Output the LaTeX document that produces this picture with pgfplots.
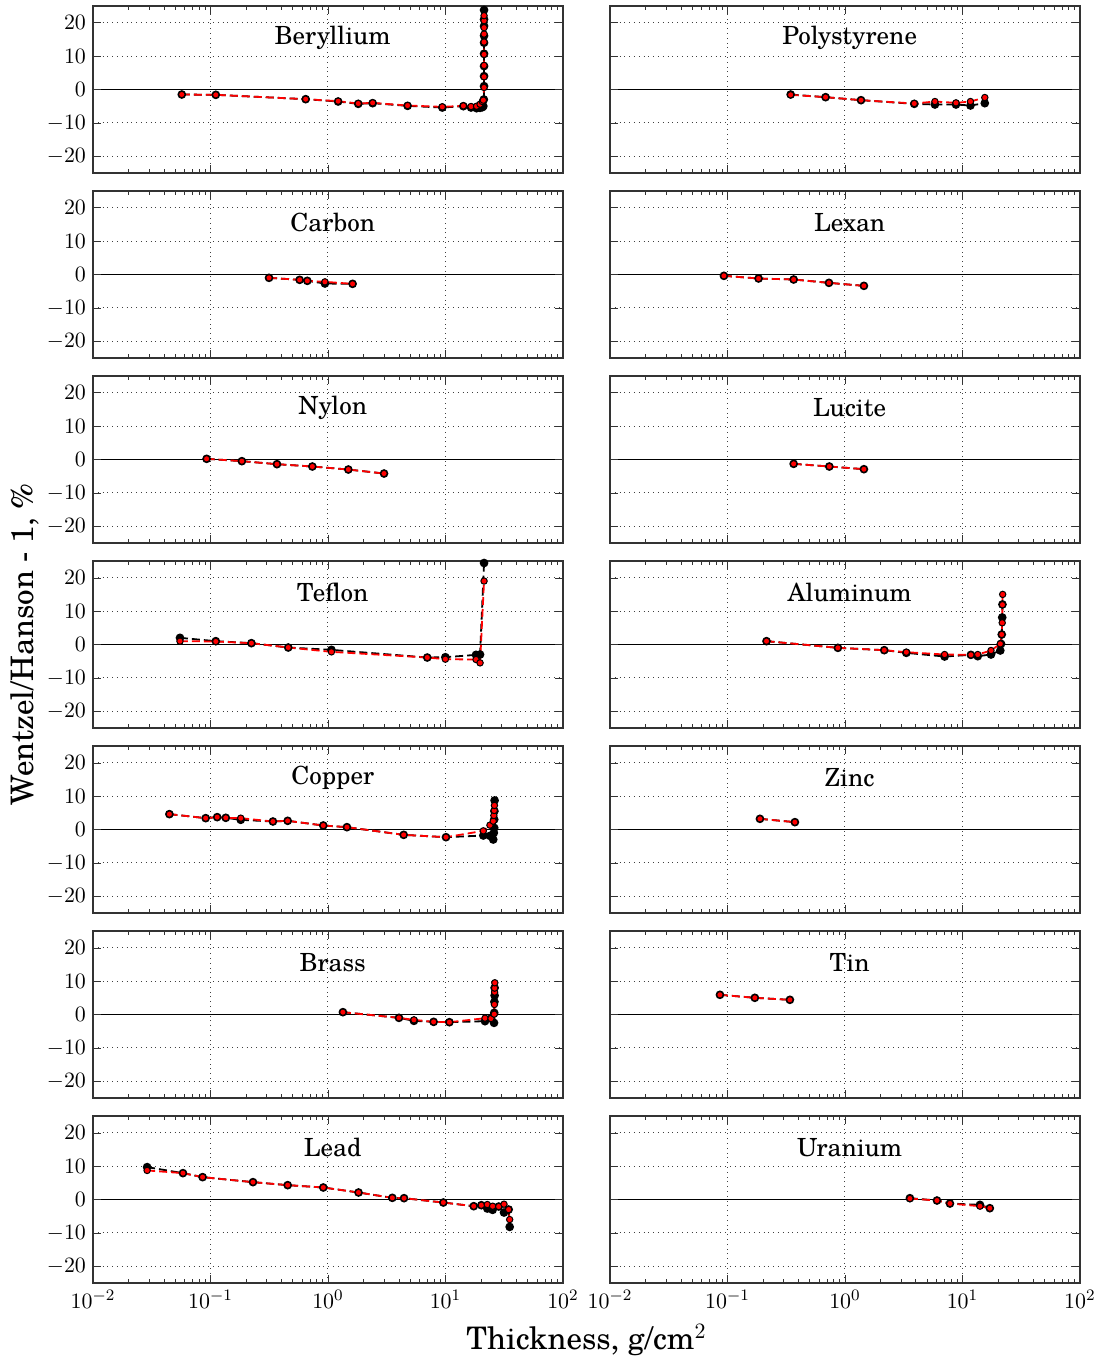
\documentclass[border=0pt]{standalone}
\usepackage{fontspec}
\setmainfont{TeX Gyre Schola}
\usepackage{pgfplots}
\pgfplotsset{compat=1.18}
\usepgfplotslibrary{groupplots}
\usetikzlibrary{calc}

\pgfplotsset{
  blk/.style={black, line width=0.9pt, dash pattern=on 4pt off 2pt,
    mark=*, mark size=1.7pt, mark options={solid, fill=black}},
  rd/.style={red, line width=0.9pt, dash pattern=on 4pt off 2pt,
    mark=*, mark size=1.6pt, mark options={solid, fill=red, draw=black, line width=0.5pt}},
}
\newcommand{\lab}[1]{\node[font=\fontsize{12.5}{14}\selectfont] at (axis description cs:0.51,0.81) {#1};}

\begin{document}
\begin{tikzpicture}
\begin{groupplot}[
  group style={group name=G, group size=2 by 7, horizontal sep=23.5pt, vertical sep=9pt,
    xticklabels at=edge bottom, yticklabels at=edge left},
  scale only axis, width=235pt, height=83.5pt,
  xmode=log, xmin=0.01, xmax=100, xtick={0.01,0.1,1,10,100},
  ymin=-25, ymax=25, ytick={-20,-10,0,10,20},
  tick label style={font=\fontsize{11}{13}\selectfont},
  grid=major, major grid style={dotted, black!75, line width=0.5pt},
  major tick length=4pt, minor tick length=2pt, tick style={black!80},
  axis line style={black!80, line width=0.8pt},
  extra y ticks={0}, extra y tick labels={},
  extra y tick style={grid=major, major grid style={solid, black, line width=0.6pt}},
]
% Beryllium
\nextgroupplot
\addplot[blk] coordinates {(0.057,-1.5) (0.111,-1.6) (0.646,-2.9) (1.22,-3.6) (1.81,-4.3) (2.40,-4.1) (4.76,-4.9) (9.40,-5.4) (14.2,-5.0) (16.5,-5.4) (18.4,-5.6) (19.7,-5.5) (20.6,-5.3) (21.0,-5.0) (21.2,-3.0) (21.3,1.0) (21.3,4.0) (21.3,7.0) (21.3,10.7) (21.3,14.0) (21.3,16.1) (21.3,19.0) (21.3,21.0) (21.3,23.8)};
\addplot[rd] coordinates {(0.057,-1.5) (0.111,-1.6) (0.646,-2.9) (1.22,-3.5) (1.81,-4.2) (2.40,-4.0) (4.76,-4.8) (9.40,-5.2) (14.2,-4.9) (16.5,-5.1) (18.4,-5.0) (19.7,-4.4) (20.6,-3.6) (21.0,-3.2) (21.3,0.6) (21.3,3.8) (21.3,7.2) (21.3,10.5) (21.3,14.2) (21.3,16.6) (21.3,18.5) (21.3,20.6) (21.3,22.1)};
\lab{Beryllium}
% Polystyrene
\nextgroupplot
\addplot[blk] coordinates {(0.345,-1.5) (0.684,-2.3) (1.37,-3.2) (3.89,-4.3) (5.83,-4.5) (8.81,-4.5) (11.7,-4.8) (15.5,-4.1)};
\addplot[rd] coordinates {(0.345,-1.6) (0.684,-2.3) (1.37,-3.2) (3.89,-4.2) (5.83,-3.6) (8.81,-4.0) (11.7,-3.6) (15.5,-2.4)};
\lab{Polystyrene}
% Carbon
\nextgroupplot
\addplot[blk] coordinates {(0.315,-1.0) (0.574,-1.6) (0.667,-1.9) (0.942,-2.7) (1.62,-2.8)};
\addplot[rd] coordinates {(0.315,-1.0) (0.574,-1.6) (0.667,-1.9) (0.942,-2.2) (1.62,-2.8)};
\lab{Carbon}
% Lexan
\nextgroupplot
\addplot[blk] coordinates {(0.0933,-0.4) (0.184,-1.2) (0.366,-1.5) (0.731,-2.5) (1.45,-3.4)};
\addplot[rd] coordinates {(0.0933,-0.4) (0.184,-1.2) (0.366,-1.5) (0.731,-2.5) (1.45,-3.4)};
\lab{Lexan}
% Nylon
\nextgroupplot
\addplot[blk] coordinates {(0.0927,0.2) (0.185,-0.5) (0.368,-1.4) (0.736,-2.1) (1.49,-3.0) (3.0,-4.2)};
\addplot[rd] coordinates {(0.0927,0.2) (0.185,-0.5) (0.368,-1.4) (0.736,-2.1) (1.49,-3.0) (3.0,-4.2)};
\lab{Nylon}
% Lucite
\nextgroupplot
\addplot[blk] coordinates {(0.366,-1.3) (0.736,-2.1) (1.45,-2.9)};
\addplot[rd] coordinates {(0.366,-1.3) (0.736,-2.1) (1.45,-2.9)};
\lab{Lucite}
% Teflon
\nextgroupplot
\addplot[blk] coordinates {(0.0550,2.0) (0.111,1.0) (0.223,0.4) (0.459,-0.9) (1.07,-1.6) (7.0,-3.9) (9.98,-3.8) (18.2,-3.1) (19.7,-3.0) (21.3,24.4)};
\addplot[rd] coordinates {(0.0550,1.0) (0.111,0.9) (0.223,0.4) (0.459,-0.9) (1.07,-2.2) (7.0,-3.9) (9.98,-4.4) (18.2,-4.5) (19.7,-5.5) (21.3,19.0)};
\lab{Teflon}
% Aluminum
\nextgroupplot
\addplot[blk] coordinates {(0.215,1.0) (0.871,-1.0) (2.16,-1.7) (3.33,-2.5) (7.05,-3.6) (11.8,-3.1) (13.5,-3.5) (17.5,-3.0) (21.0,-1.8) (21.3,0.2) (21.6,3.0) (21.8,8.1) (21.9,12.0)};
\addplot[rd] coordinates {(0.215,1.0) (0.871,-1.0) (2.16,-1.7) (3.33,-2.3) (7.05,-3.0) (11.8,-3.1) (13.5,-3.0) (17.5,-1.8) (21.0,0.2) (21.6,3.0) (21.8,6.5) (21.9,11.9) (22.0,15.0)};
\lab{Aluminum}
% Copper
\nextgroupplot
\addplot[blk] coordinates {(0.0447,4.6) (0.0910,3.4) (0.114,3.7) (0.135,3.5) (0.181,2.9) (0.340,2.4) (0.454,2.6) (0.912,1.2) (1.45,0.7) (4.41,-1.6) (10.1,-2.3) (21.0,-1.8) (23.9,-1.9) (25.5,-3.0) (25.8,-1.0) (26.0,0.5) (26.0,3.0) (26.1,5.5) (26.2,8.7)};
\addplot[rd] coordinates {(0.0447,4.6) (0.0910,3.4) (0.114,3.7) (0.135,3.5) (0.181,3.4) (0.340,2.4) (0.454,2.6) (0.912,1.2) (1.45,0.7) (4.41,-1.6) (10.1,-2.3) (21.0,-0.4) (23.9,1.3) (25.5,2.5) (25.8,4.2) (26.0,5.7) (26.1,7.2)};
\lab{Copper}
% Zinc
\nextgroupplot
\addplot[blk] coordinates {(0.189,3.2) (0.375,2.2)};
\addplot[rd] coordinates {(0.189,3.2) (0.375,2.2)};
\lab{Zinc}
% Brass
\nextgroupplot
\addplot[blk] coordinates {(1.34,0.7) (4.02,-1.0) (5.39,-1.9) (7.93,-2.2) (10.8,-2.3) (21.7,-2.0) (24.4,-1.2) (25.9,-2.5) (26.0,0.5) (26.1,3.8) (26.2,5.7) (26.2,8.0)};
\addplot[rd] coordinates {(1.34,0.7) (4.02,-1.0) (5.39,-1.6) (7.93,-2.2) (10.8,-2.3) (21.7,-1.1) (24.4,-1.2) (26.0,0.1) (26.1,3.0) (26.2,6.7) (26.2,7.9) (26.3,9.5)};
\lab{Brass}
% Tin
\nextgroupplot
\addplot[blk] coordinates {(0.0863,5.9) (0.171,5.0) (0.340,4.4)};
\addplot[rd] coordinates {(0.0863,5.9) (0.171,5.0) (0.340,4.4)};
\lab{Tin}
% Lead
\nextgroupplot
\addplot[blk] coordinates {(0.0289,9.7) (0.0583,7.9) (0.0857,6.7) (0.230,5.2) (0.454,4.3) (0.912,3.6) (1.82,2.1) (3.53,0.5) (4.44,0.4) (9.59,-0.9) (17.4,-2.0) (20.2,-1.7) (22.7,-2.7) (25.2,-3.1) (28.4,-2.1) (31.5,-3.9) (34.5,-3.0) (35.2,-8.2)};
\addplot[rd] coordinates {(0.0289,8.7) (0.0583,7.9) (0.0857,6.7) (0.230,5.2) (0.454,4.3) (0.912,3.6) (1.82,2.1) (3.53,0.5) (4.44,0.4) (9.59,-0.9) (17.4,-2.0) (20.2,-1.7) (22.7,-1.5) (25.2,-2.0) (28.4,-2.1) (31.5,-1.4) (34.5,-3.0) (35.2,-6.0)};
\lab{Lead}
% Uranium
\nextgroupplot
\addplot[blk] coordinates {(3.57,0.4) (6.07,-0.3) (7.83,-1.2) (14.1,-1.6) (17.1,-2.6)};
\addplot[rd] coordinates {(3.57,0.3) (6.07,-0.3) (7.83,-1.2) (14.1,-2.0) (17.1,-2.6)};
\lab{Uranium}
\end{groupplot}
\node[font=\fontsize{15.5}{18}\selectfont] at ($($(G c1r7.south west)!0.5!(G c2r7.south east)$)+(0,-28.5pt)$) {Thickness, g/cm$^2$};
\node[font=\fontsize{15.5}{18}\selectfont, rotate=90] at ($($(G c1r1.north west)!0.5!(G c1r7.south west)$)+(-34pt,0)$) {Wentzel/Hanson - 1, \%};
\path ($(G c1r1.north west)+(-46.5pt,3pt)$) rectangle ($(G c2r7.south east)+(10pt,-41.5pt)$);
\end{tikzpicture}
\end{document}
